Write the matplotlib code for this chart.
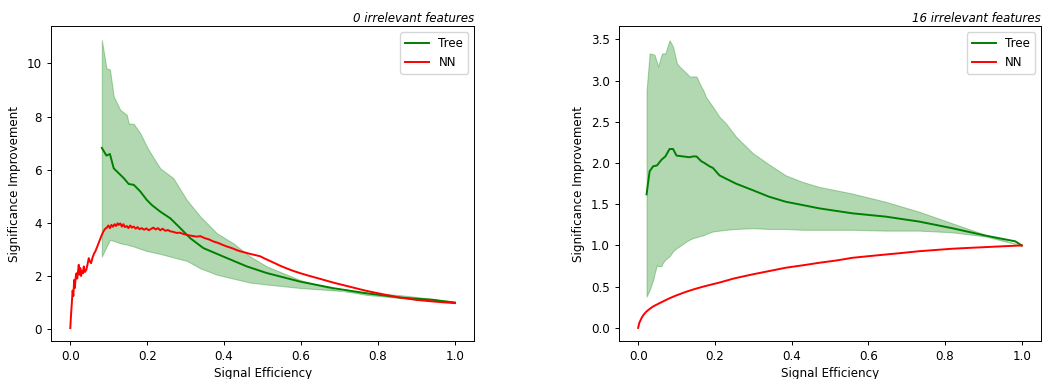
import matplotlib
matplotlib.use("Agg")
import matplotlib.pyplot as plt
import numpy as np

# ---------------- Left panel: 0 irrelevant features ----------------
tree0_x = [0.082, 0.094, 0.103, 0.113, 0.139, 0.152, 0.165, 0.182, 0.199, 0.212, 0.234,
           0.26, 0.286, 0.312, 0.346, 0.398, 0.459, 0.511, 0.597, 0.684, 0.77, 0.857, 0.944, 1.0]
tree0_mean = [6.82, 6.53, 6.59, 6.05, 5.68, 5.46, 5.43, 5.18, 4.86, 4.67, 4.42,
              4.17, 3.80, 3.42, 3.05, 2.73, 2.36, 2.11, 1.79, 1.54, 1.35, 1.19, 1.10, 1.0]

band0_x = [0.082, 0.094, 0.103, 0.113, 0.13, 0.147, 0.152, 0.165, 0.182, 0.199, 0.212, 0.234,
           0.268, 0.303, 0.338, 0.381, 0.424, 0.468, 0.511, 0.597, 0.684, 0.77, 0.857, 0.944, 1.0]
band0_hi = [10.88, 9.81, 9.77, 8.75, 8.25, 8.06, 7.74, 7.72, 7.37, 6.87, 6.55, 6.05,
            5.68, 4.86, 4.24, 3.61, 3.23, 2.73, 2.36, 1.85, 1.50, 1.29, 1.17, 1.10, 1.04]
band0_lo = [2.73, 3.10, 3.36, 3.32, 3.23, 3.18, 3.16, 3.11, 3.02, 2.94, 2.90, 2.83,
            2.70, 2.57, 2.29, 2.05, 1.90, 1.75, 1.68, 1.55, 1.46, 1.37, 1.28, 1.14, 0.98]

nn0_x = [0.0, 0.002, 0.004, 0.006, 0.008, 0.01, 0.012, 0.014, 0.016, 0.018, 0.02, 0.022,
         0.024, 0.026, 0.028, 0.03, 0.033, 0.035, 0.038, 0.042, 0.045, 0.048, 0.051, 0.054,
         0.058, 0.062, 0.065, 0.07, 0.074, 0.078, 0.082, 0.087, 0.091, 0.095, 0.099, 0.103,
         0.107, 0.111, 0.115, 0.119, 0.123, 0.126, 0.13, 0.134, 0.138, 0.142, 0.147, 0.151,
         0.156, 0.16, 0.165, 0.17, 0.175, 0.18, 0.186, 0.192, 0.198, 0.204, 0.21, 0.216,
         0.222, 0.228, 0.234, 0.24, 0.247, 0.254, 0.26, 0.268, 0.276, 0.285, 0.294, 0.303,
         0.312, 0.32, 0.329, 0.338, 0.35, 0.36, 0.372, 0.385, 0.398, 0.407, 0.42, 0.432,
         0.442, 0.455, 0.468, 0.48, 0.494, 0.505, 0.52, 0.535, 0.545, 0.56, 0.58, 0.597,
         0.62, 0.65, 0.684, 0.72, 0.77, 0.81, 0.857, 0.9, 0.944, 0.97, 1.0]
nn0_y = [0.04, 0.55, 0.98, 1.45, 1.25, 1.85, 1.55, 1.95, 2.10, 1.90, 2.15, 2.42,
         2.05, 2.30, 2.00, 2.20, 2.10, 2.36, 2.15, 2.25, 2.45, 2.67, 2.55, 2.48,
         2.70, 2.85, 2.92, 3.10, 3.25, 3.40, 3.55, 3.70, 3.78, 3.82, 3.90, 3.80,
         3.92, 3.85, 3.95, 3.88, 3.98, 3.92, 3.98, 3.86, 3.95, 3.84, 3.88, 3.80,
         3.90, 3.82, 3.86, 3.78, 3.84, 3.76, 3.80, 3.74, 3.79, 3.72, 3.77, 3.82,
         3.75, 3.80, 3.72, 3.78, 3.70, 3.73, 3.68, 3.66, 3.62, 3.63, 3.58, 3.55,
         3.52, 3.50, 3.48, 3.50, 3.42, 3.38, 3.30, 3.24, 3.16, 3.11, 3.05, 2.98,
         2.93, 2.88, 2.83, 2.79, 2.74, 2.66, 2.56, 2.46, 2.39, 2.30, 2.19, 2.11,
         2.01, 1.89, 1.75, 1.62, 1.44, 1.32, 1.19, 1.10, 1.04, 1.01, 0.98]

# ---------------- Right panel: 16 irrelevant features ----------------
tree16_x = [0.022, 0.03, 0.039, 0.049, 0.061, 0.071, 0.082, 0.091, 0.1, 0.117, 0.134, 0.143,
            0.152, 0.165, 0.173, 0.186, 0.195, 0.212, 0.229, 0.255, 0.299, 0.342, 0.385,
            0.429, 0.472, 0.558, 0.645, 0.732, 0.818, 0.905, 0.983, 1.0]
tree16_mean = [1.62, 1.90, 1.96, 1.97, 2.04, 2.08, 2.17, 2.17, 2.09, 2.08, 2.07, 2.08,
               2.08, 2.02, 2.00, 1.96, 1.94, 1.85, 1.81, 1.75, 1.67, 1.59, 1.53,
               1.49, 1.45, 1.39, 1.35, 1.29, 1.21, 1.12, 1.05, 1.0]

band16_x = [0.022, 0.03, 0.039, 0.043, 0.049, 0.052, 0.061, 0.063, 0.071, 0.082, 0.091, 0.101,
            0.108, 0.117, 0.126, 0.134, 0.143, 0.152, 0.165, 0.169, 0.177, 0.195, 0.212,
            0.229, 0.255, 0.299, 0.342, 0.385, 0.429, 0.472, 0.558, 0.645, 0.732, 0.818,
            0.905, 0.991, 1.0]
band16_hi = [2.88, 3.33, 3.32, 3.31, 3.22, 3.17, 3.31, 3.33, 3.33, 3.49, 3.41, 3.21,
             3.17, 3.13, 3.09, 3.05, 3.05, 3.05, 2.92, 2.89, 2.80, 2.68, 2.56,
             2.48, 2.32, 2.12, 1.98, 1.85, 1.77, 1.71, 1.63, 1.53, 1.41, 1.27,
             1.13, 1.01, 1.0]
band16_lo = [0.38, 0.46, 0.58, 0.66, 0.76, 0.75, 0.75, 0.78, 0.83, 0.87, 0.93, 0.97,
             0.99, 1.02, 1.05, 1.07, 1.09, 1.10, 1.12, 1.12, 1.14, 1.17, 1.18,
             1.19, 1.20, 1.21, 1.20, 1.20, 1.19, 1.19, 1.19, 1.18, 1.18, 1.16,
             1.11, 1.01, 1.0]

nn16_x = [0.0, 0.003, 0.009, 0.015, 0.022, 0.03, 0.039, 0.06, 0.082, 0.1, 0.126, 0.15,
          0.169, 0.19, 0.212, 0.25, 0.299, 0.342, 0.385, 0.43, 0.472, 0.52, 0.558, 0.6,
          0.645, 0.69, 0.732, 0.775, 0.818, 0.86, 0.905, 0.95, 1.0]
nn16_y = [0.0, 0.06, 0.12, 0.165, 0.20, 0.23, 0.26, 0.31, 0.36, 0.395, 0.44, 0.475,
          0.50, 0.525, 0.55, 0.60, 0.65, 0.69, 0.73, 0.76, 0.79, 0.82, 0.85, 0.87,
          0.89, 0.91, 0.93, 0.945, 0.96, 0.97, 0.98, 0.99, 1.0]

plt.rcParams.update({
    'font.size': 8.6,
    'axes.linewidth': 0.7,
    'xtick.major.size': 3.0,
    'ytick.major.size': 3.0,
    'xtick.major.width': 0.7,
    'ytick.major.width': 0.7,
})

fig = plt.figure(figsize=(10.42, 3.79), dpi=100)
ax1 = fig.add_axes([0.049, 0.100, 0.406, 0.831])
ax2 = fig.add_axes([0.594, 0.100, 0.405, 0.831])

LW = 1.4
ax1.fill_between(band0_x, band0_lo, band0_hi, color='green', alpha=0.3, lw=0.8)
ax1.plot(tree0_x, tree0_mean, color='green', lw=LW, label='Tree')
ax1.plot(nn0_x, nn0_y, color='red', lw=LW, label='NN')
ax1.set_xlim(-0.05, 1.05)
ax1.set_ylim(-0.45, 11.4)
ax1.set_yticks([0, 2, 4, 6, 8, 10])
ax1.set_xlabel('Signal Efficiency', labelpad=3)
ax1.set_ylabel('Significance Improvement')
ax1.set_title('0 irrelevant features', loc='right', fontstyle='italic', fontsize=8.6, pad=3)
ax1.legend(loc='upper right')

ax2.fill_between(band16_x, band16_lo, band16_hi, color='green', alpha=0.3, lw=0.8)
ax2.plot(tree16_x, tree16_mean, color='green', lw=LW, label='Tree')
ax2.plot(nn16_x, nn16_y, color='red', lw=LW, label='NN')
ax2.set_xlim(-0.05, 1.05)
ax2.set_ylim(-0.16, 3.66)
ax2.set_xlabel('Signal Efficiency', labelpad=3)
ax2.set_ylabel('Significance Improvement')
ax2.set_title('16 irrelevant features', loc='right', fontstyle='italic', fontsize=8.6, pad=3)
ax2.legend(loc='upper right')

fig.savefig('out.png', dpi=100)
